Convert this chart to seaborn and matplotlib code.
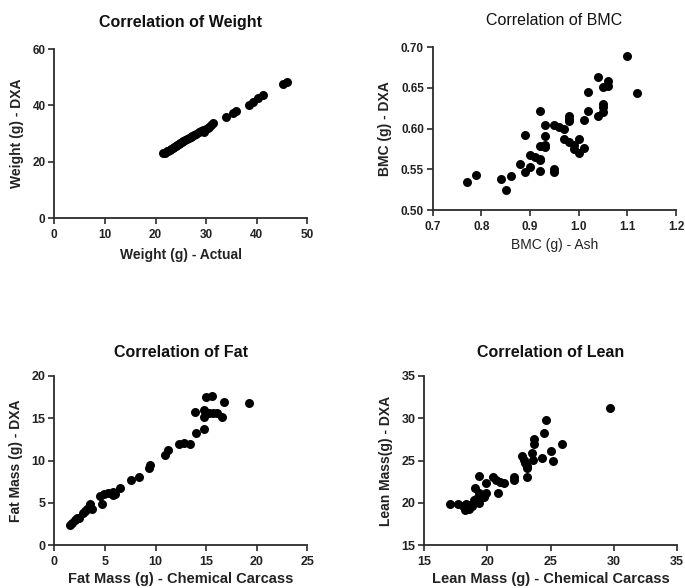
import matplotlib
matplotlib.use("Agg")
import matplotlib.pyplot as plt
import seaborn as sns
import pandas as pd

# ---- data ----
weight_actual = [21.5, 21.9, 22.2, 22.5, 22.8, 23.1, 23.4, 23.7, 24.0, 24.3, 24.6, 24.9,
                 25.2, 25.5, 25.8, 26.2, 26.6, 27.0, 27.3, 27.6, 28.0, 28.5, 28.9, 29.3,
                 29.6, 30.0, 30.3, 30.6, 31.0, 31.4, 33.9, 35.4, 35.9, 38.5, 39.3, 40.3,
                 41.3, 45.2, 45.9]
weight_dxa = [23.0, 23.3, 23.7, 24.0, 24.3, 24.6, 24.9, 25.3, 25.6, 25.9, 26.3, 26.6,
              26.9, 27.3, 27.6, 28.0, 28.4, 28.9, 29.2, 29.5, 30.0, 30.5, 30.9, 31.3,
              30.5, 31.8, 32.1, 32.5, 32.9, 33.6, 35.8, 37.4, 38.0, 40.2, 41.3, 42.5,
              43.7, 47.6, 48.2]

bmc_ash = [0.77, 0.79, 0.84, 0.85, 0.86, 0.88, 0.89, 0.89, 0.90, 0.90, 0.91, 0.92,
           0.92, 0.92, 0.92, 0.92, 0.93, 0.93, 0.93, 0.93, 0.95, 0.95, 0.95, 0.96,
           0.97, 0.97, 0.98, 0.98, 0.98, 0.98, 0.99, 0.99, 1.00, 1.00, 1.01, 1.01,
           1.02, 1.02, 1.04, 1.04, 1.05, 1.05, 1.05, 1.05, 1.06, 1.06, 1.10, 1.12]
bmc_dxa = [0.535, 0.543, 0.538, 0.525, 0.542, 0.556, 0.592, 0.547, 0.567, 0.553, 0.565, 0.563,
           0.561, 0.622, 0.579, 0.548, 0.604, 0.591, 0.580, 0.578, 0.550, 0.547, 0.605, 0.602,
           0.600, 0.587, 0.583, 0.616, 0.612, 0.609, 0.580, 0.575, 0.587, 0.570, 0.576, 0.611,
           0.622, 0.645, 0.664, 0.615, 0.651, 0.620, 0.627, 0.630, 0.659, 0.652, 0.689, 0.644]

fat_carcass = [19.2, 16.8, 16.6, 16.1, 15.7, 15.3, 14.8, 14.8, 15.0, 15.6, 13.9, 14.8,
               14.0, 13.4, 12.8, 12.3, 11.2, 10.9, 9.5, 9.4, 8.4, 7.6, 6.5, 5.8,
               5.3, 4.9, 4.5, 5.8, 4.7, 3.5, 3.4, 3.2, 3.7, 3.5, 3.0, 2.8,
               2.2, 2.0, 1.7, 1.6, 2.4, 6.0]
fat_dxa = [16.8, 16.9, 15.2, 15.6, 15.6, 15.6, 16.0, 15.2, 17.5, 17.6, 15.7, 13.7,
           13.2, 12.0, 12.1, 11.9, 11.3, 10.7, 9.5, 9.1, 8.1, 7.7, 6.7, 6.3,
           6.1, 6.0, 5.8, 5.9, 4.9, 4.7, 4.5, 4.3, 4.3, 4.9, 4.0, 3.8,
           3.2, 3.0, 2.6, 2.4, 3.2, 6.0]

lean_carcass = [29.7, 24.6, 24.5, 25.9, 23.7, 23.7, 25.0, 25.2, 24.3, 23.5, 23.6, 22.7,
                22.9, 23.0, 23.1, 23.1, 23.1, 22.1, 22.1, 20.4, 20.7, 21.0, 21.3, 20.8,
                19.3, 19.9, 19.0, 19.9, 19.7, 19.3, 19.1, 18.9, 18.6, 18.5, 18.3, 18.2,
                18.1, 17.7, 17.0, 19.1, 19.4, 18.8, 19.3]
lean_dxa = [31.2, 29.8, 28.2, 27.0, 27.5, 27.0, 26.1, 25.0, 25.3, 25.9, 25.1, 25.5,
            25.1, 24.7, 24.3, 24.1, 23.0, 23.1, 22.7, 23.1, 22.7, 22.4, 22.3, 21.1,
            23.2, 22.3, 21.7, 21.1, 20.7, 21.1, 20.5, 20.3, 19.7, 19.3, 19.9, 19.1,
            19.6, 19.9, 19.9, 20.1, 20.5, 19.6, 20.0]

titles = ["Correlation of Weight", "Correlation of BMC", "Correlation of Fat", "Correlation of Lean"]
xlabels = ["Weight (g) - Actual", "BMC (g) - Ash", "Fat Mass (g) - Chemical Carcass",
           "Lean Mass (g) - Chemical Carcass"]
ylabels = ["Weight (g) - DXA", "BMC (g) - DXA", "Fat Mass (g) - DXA", "Lean Mass(g) - DXA"]
xticks_list = [[0, 10, 20, 30, 40, 50], [0.7, 0.8, 0.9, 1.0, 1.1, 1.2],
               [0, 5, 10, 15, 20, 25], [15, 20, 25, 30, 35]]
yticks_list = [[0, 20, 40, 60], [0.50, 0.55, 0.60, 0.65, 0.70],
               [0, 5, 10, 15, 20], [15, 20, 25, 30, 35]]
xtick_labels = [["0", "10", "20", "30", "40", "50"], ["0.7", "0.8", "0.9", "1.0", "1.1", "1.2"],
                ["0", "5", "10", "15", "20", "25"], ["15", "20", "25", "30", "35"]]
ytick_labels = [["0", "20", "40", "60"], ["0.50", "0.55", "0.60", "0.65", "0.70"],
                ["0", "5", "10", "15", "20"], ["15", "20", "25", "30", "35"]]

# ---- style ----
sns.set_style("ticks")
plt.rcParams["font.family"] = ["Liberation Sans", "DejaVu Sans"]

W, H = 685, 588
fig = plt.figure(figsize=(W / 100, H / 100), dpi=100)

# axes rectangles in pixel coords: (left, right, top, bottom)
px_rects = [(54.3, 307.3, 49.0, 218.3),
            (432.7, 676.0, 47.3, 210.0),
            (54.3, 307.3, 376.0, 545.0),
            (424.3, 677.0, 376.0, 545.0)]

datasets = [(weight_actual, weight_dxa), (bmc_ash, bmc_dxa),
            (fat_carcass, fat_dxa), (lean_carcass, lean_dxa)]

title_weight = ["bold", "normal", "bold", "bold"]
xlabel_weight = ["bold", "normal", "bold", "bold"]
ylabel_size = [10, 10, 10, 10]
xlabel_size = [10, 10, 10.5, 10.5]
tick_size = [8.5, 8.5, 9, 9]
title_pad = [16, 16, 14, 14]
xlabel_pad = [5, 4, 3, 3]

spine_col = "#2b2b2b"
for i, (l, r, t, b) in enumerate(px_rects):
    ax = fig.add_axes([l / W, 1 - b / H, (r - l) / W, (b - t) / H])
    xs, ys = datasets[i]
    df = pd.DataFrame({"x": xs, "y": ys})
    sns.scatterplot(data=df, x="x", y="y", ax=ax, color="black", s=42,
                    linewidth=0, legend=False, clip_on=False)
    ax.set_xlim(xticks_list[i][0], xticks_list[i][-1])
    ax.set_ylim(yticks_list[i][0], yticks_list[i][-1])
    ax.set_xticks(xticks_list[i])
    ax.set_xticklabels(xtick_labels[i], fontsize=tick_size[i], fontweight="bold", color="#222222")
    ax.set_yticks(yticks_list[i])
    ax.set_yticklabels(ytick_labels[i], fontsize=tick_size[i], fontweight="bold", color="#222222")
    for s in ["top", "right"]:
        ax.spines[s].set_visible(False)
    for s in ["left", "bottom"]:
        ax.spines[s].set_color(spine_col)
        ax.spines[s].set_linewidth(1.3)
    ax.tick_params(direction="out", length=4.3, width=1.2, color=spine_col, pad=2)
    ax.tick_params(axis="x", pad=3.5)
    ax.set_xlabel(xlabels[i], fontsize=xlabel_size[i], fontweight=xlabel_weight[i],
                  color="#222222", labelpad=xlabel_pad[i])
    ax.set_ylabel(ylabels[i], fontsize=ylabel_size[i], fontweight="bold",
                  color="#222222", labelpad=6)
    ax.set_title(titles[i], fontsize=11.5, fontweight=title_weight[i],
                 color="#111111", pad=title_pad[i])
    ax.set_facecolor("white")

fig.patch.set_facecolor("white")
fig.savefig("out.png", dpi=100, facecolor="white")
